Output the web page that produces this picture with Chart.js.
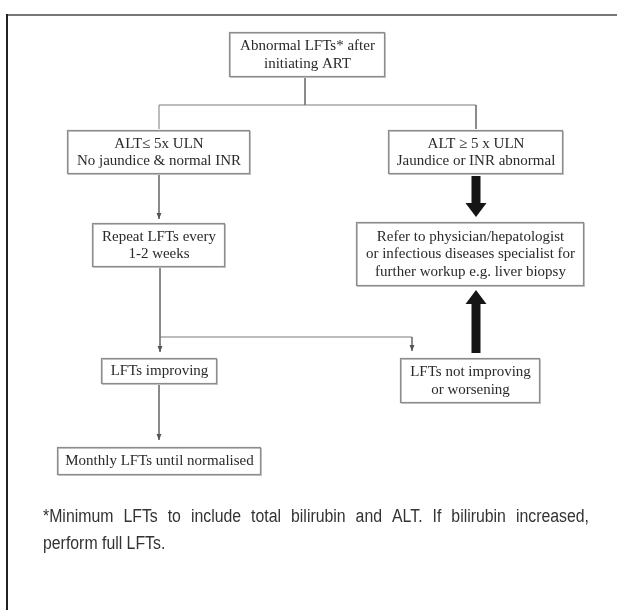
<!DOCTYPE html>
<html><head><meta charset="utf-8">
<script src="https://cdn.jsdelivr.net/npm/chart.js@4/dist/chart.umd.min.js"></script>
<style>html,body{margin:0;padding:0;background:#fff;}canvas{display:block;}</style>
</head><body>
<canvas id="c" width="617" height="610"></canvas>
<script>
// ---- content ----
const nodeLabels = [
  ["Abnormal LFTs* after", "initiating ART"],
  ["ALT\u2264 5x ULN", "No jaundice & normal INR"],
  ["ALT \u2265 5 x ULN", "Jaundice or INR abnormal"],
  ["Repeat LFTs every", "1-2 weeks"],
  ["Refer to physician/hepatologist", "or infectious diseases specialist for", "further workup e.g. liver biopsy"],
  ["LFTs improving"],
  ["LFTs not improving", "or worsening"],
  ["Monthly LFTs until normalised"]
];
const footnoteLines = [
  "*Minimum LFTs to include total bilirubin and ALT. If bilirubin increased,",
  "perform full LFTs."
];

// ---- layout (chart units) ----
const boxLeft   = [229, 67, 388, 92, 356, 101, 400, 57];
const boxTop    = [32, 130, 130, 223, 222, 358, 358, 447];
const boxRight  = [384, 249, 562, 224, 583, 216, 539, 260];
const boxBottom = [76, 173, 173, 266, 285, 383, 402, 474];

const connectorPaths = [
  [[305, 76], [305, 105]],
  [[159, 129], [159, 105], [476, 105], [476, 129]],
  [[159, 173], [159, 219]],
  [[160, 266], [160, 352]],
  [[160, 337], [412, 337], [412, 351]],
  [[159, 383], [159, 440]]
];
const connectorArrow = [false, false, true, true, true, true];
const thickArrowX = [476, 476];
const thickArrowFrom = [176, 353];
const thickArrowTo = [217, 290];

const datasets = connectorPaths.map(p => ({
  type: 'line',
  data: p.map(q => ({x: q[0], y: q[1]})),
  showLine: true,
  borderColor: '#7a7a7a',
  borderWidth: 1,
  pointRadius: 0,
  tension: 0,
  fill: false,
  clip: false
}));

const flowPlugin = {
  id: 'flow',
  beforeDatasetsDraw(chart) {
    const ctx = chart.ctx, xs = chart.scales.x, ys = chart.scales.y;
    const X = v => xs.getPixelForValue(v), Y = v => ys.getPixelForValue(v);
    ctx.save();
    ctx.strokeStyle = '#777'; ctx.lineWidth = 2;
    ctx.beginPath(); ctx.moveTo(X(7), Y(15)); ctx.lineTo(X(617), Y(15)); ctx.stroke();
    ctx.strokeStyle = '#222';
    ctx.beginPath(); ctx.moveTo(X(7), Y(14)); ctx.lineTo(X(7), Y(610)); ctx.stroke();
    ctx.restore();
  },
  afterDatasetsDraw(chart) {
    const ctx = chart.ctx, xs = chart.scales.x, ys = chart.scales.y;
    const X = v => xs.getPixelForValue(v), Y = v => ys.getPixelForValue(v);
    ctx.save();
    ctx.fillStyle = '#555';
    connectorPaths.forEach((p, i) => {
      if (!connectorArrow[i]) return;
      const e = p[p.length - 1];
      const tx = X(e[0]), ty = Y(e[1]);
      ctx.beginPath();
      ctx.moveTo(tx, ty); ctx.lineTo(tx - 2.5, ty - 6); ctx.lineTo(tx + 2.5, ty - 6); ctx.closePath();
      ctx.fill();
    });
    ctx.fillStyle = '#151515';
    thickArrowX.forEach((ax, i) => {
      const cx = X(ax), y0 = Y(thickArrowFrom[i]), y1 = Y(thickArrowTo[i]);
      const dir = y1 > y0 ? 1 : -1;
      const headLen = 14, headW = 10.5, shaftW = 4.5;
      const hb = y1 - dir * headLen;
      ctx.beginPath();
      ctx.moveTo(cx - shaftW, y0);
      ctx.lineTo(cx - shaftW, hb);
      ctx.lineTo(cx - headW, hb);
      ctx.lineTo(cx, y1);
      ctx.lineTo(cx + headW, hb);
      ctx.lineTo(cx + shaftW, hb);
      ctx.lineTo(cx + shaftW, y0);
      ctx.closePath();
      ctx.fill();
    });
    nodeLabels.forEach((lines, i) => {
      const l = X(boxLeft[i]), r = X(boxRight[i]), t = Y(boxTop[i]), b = Y(boxBottom[i]);
      ctx.fillStyle = '#fff';
      ctx.fillRect(l, t, r - l, b - t);
      ctx.strokeStyle = '#c4c4c4'; ctx.lineWidth = 1;
      ctx.strokeRect(l + 1.5, t + 1.5, r - l, b - t);
      ctx.strokeStyle = '#8c8c8c'; ctx.lineWidth = 1.2;
      ctx.strokeRect(l + 0.5, t + 0.5, r - l, b - t);
      ctx.fillStyle = '#2a2a2a';
      ctx.font = '15px "Liberation Serif", "Times New Roman", serif';
      ctx.textAlign = 'center'; ctx.textBaseline = 'middle';
      const lh = 17.5;
      const cx = (l + r) / 2 + 1, cy = (t + b) / 2 + 1;
      lines.forEach((s, k) => {
        ctx.fillText(s, cx, cy + (k - (lines.length - 1) / 2) * lh);
      });
    });
    // footnote: narrow sans emulated by horizontal scaling, first line justified
    const sx = 0.88;
    ctx.fillStyle = '#333';
    ctx.font = '18px "Liberation Sans", Arial, sans-serif';
    ctx.textAlign = 'left'; ctx.textBaseline = 'alphabetic';
    const left = X(43), right = X(589);
    const baselines = [Y(522), Y(549)];
    const drawNarrow = (w, x, y) => {
      ctx.save(); ctx.translate(x, y); ctx.scale(sx, 1); ctx.fillText(w, 0, 0); ctx.restore();
    };
    footnoteLines.forEach((line, k) => {
      const words = line.split(' ');
      if (k === footnoteLines.length - 1) { drawNarrow(line, left, baselines[k]); return; }
      const tw = words.reduce((s, w) => s + ctx.measureText(w).width * sx, 0);
      const gap = (right - left - tw) / (words.length - 1);
      let x = left;
      words.forEach(w => { drawNarrow(w, x, baselines[k]); x += ctx.measureText(w).width * sx + gap; });
    });
    ctx.restore();
  }
};

new Chart(document.getElementById('c'), {
  type: 'scatter',
  data: { datasets },
  options: {
    responsive: false,
    animation: false,
    events: [],
    layout: { padding: 0 },
    plugins: { legend: { display: false }, tooltip: { enabled: false }, title: { display: false } },
    scales: {
      x: { type: 'linear', min: 0, max: 617, display: false },
      y: { type: 'linear', min: 0, max: 610, reverse: true, display: false }
    }
  },
  plugins: [flowPlugin]
});
</script>
</body></html>
